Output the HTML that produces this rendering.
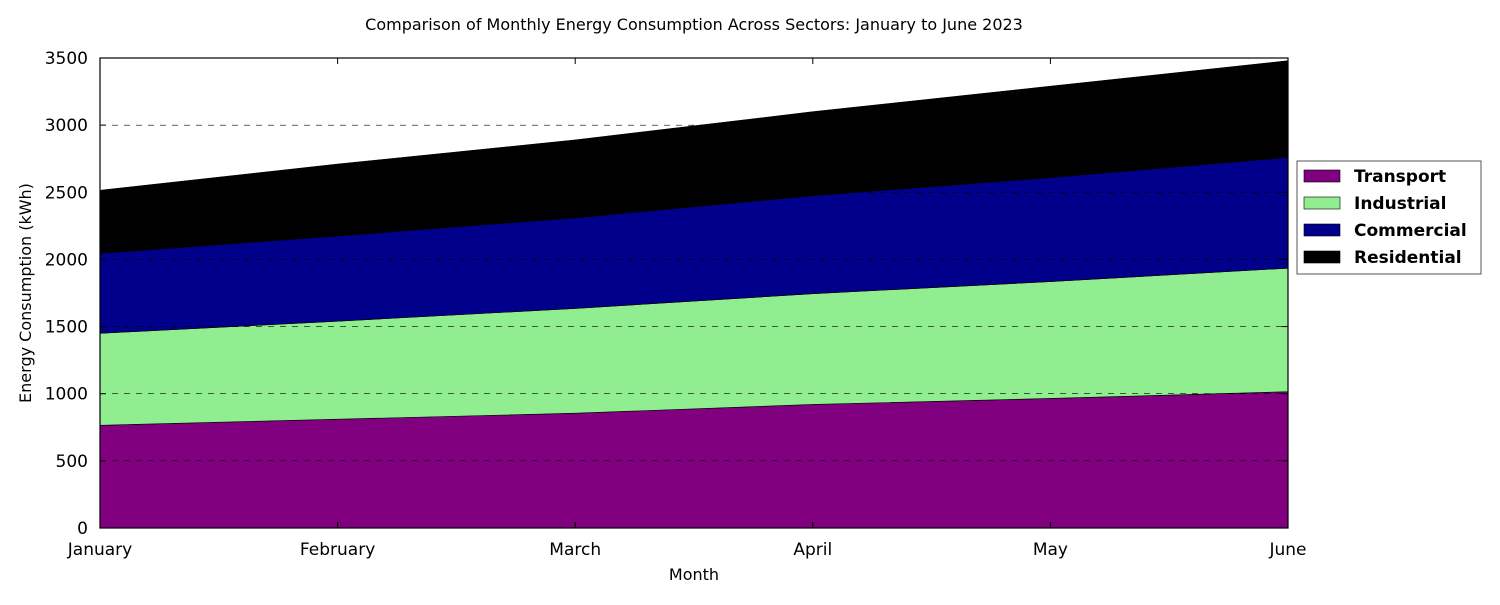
<!DOCTYPE html>
<html><head><meta charset="utf-8"><style>
body{margin:0;background:#fff;}
svg text{font-family:"DejaVu Sans","Liberation Sans",sans-serif;}
</style></head><body>
<svg id="chart" width="1500" height="600" xmlns="http://www.w3.org/2000/svg"></svg>
<script>
const months = ["January","February","March","April","May","June"];
const transport = [765,810,855,920,965,1015];
const industrial = [685,730,780,825,870,920];
const commercial = [595,635,675,730,775,825];
const residential = [470,535,580,625,680,720];
const yTicks = [0,500,1000,1500,2000,2500,3000,3500];
const seriesNames = ["Transport","Industrial","Commercial","Residential"];

const svg = document.getElementById('chart');
const NS = "http://www.w3.org/2000/svg";
const L=100,R=1288,T=58,B=528,YMAX=3500;
const xs = i => L + (R-L)*i/(months.length-1);
const ys = v => B - (B-T)*v/YMAX;
function mk(tag, attrs){const e=document.createElementNS(NS,tag);for(const k in attrs)e.setAttribute(k,attrs[k]);svg.appendChild(e);return e;}

const colors = ["#800080","#90ee90","#00008b","#000000"];
const data = [transport,industrial,commercial,residential];
let base = months.map(()=>0);
data.forEach((s,si)=>{
  const top = base.map((b,i)=>b+s[i]);
  let d = "M"+months.map((m,i)=>xs(i)+","+ys(top[i])).join(" L");
  for(let i=months.length-1;i>=0;i--) d+=" L"+xs(i)+","+ys(base[i]);
  d+=" Z";
  const p = mk('path',{d:d,fill:colors[si],stroke:"#000","stroke-width":0.6});
  
  
  base = top;
});

yTicks.forEach(v=>{
  if(v>0 && v<YMAX){
    const g = mk('line',{x1:L,x2:R,y1:ys(v),y2:ys(v),stroke:"#000","stroke-dasharray":"6,6","stroke-width":0.6});
    
    
  }
  mk('line',{x1:L,x2:L+6,y1:ys(v),y2:ys(v),stroke:"#000"});
  mk('line',{x1:R-6,x2:R,y1:ys(v),y2:ys(v),stroke:"#000"});
  const t = mk('text',{x:L-12,y:ys(v)+6,"text-anchor":"end","font-size":17});
  t.textContent = v;
  
  
});
months.forEach((m,i)=>{
  mk('line',{x1:xs(i),x2:xs(i),y1:B,y2:B-6,stroke:"#000"});
  mk('line',{x1:xs(i),x2:xs(i),y1:T,y2:T+6,stroke:"#000"});
  const t = mk('text',{x:xs(i),y:B+27,"text-anchor":"middle","font-size":17});
  t.textContent = m;
  
  
});
mk('rect',{x:L,y:T,width:R-L,height:B-T,fill:"none",stroke:"#000","stroke-width":1.2});
</script>
<svg width="1500" height="600" style="position:absolute;left:0;top:0" xmlns="http://www.w3.org/2000/svg">
<text x="694" y="30" text-anchor="middle" font-size="16">Comparison of Monthly Energy Consumption Across Sectors: January to June 2023</text>
<text x="694" y="580" text-anchor="middle" font-size="16">Month</text>
<text transform="translate(31,293) rotate(-90)" text-anchor="middle" font-size="16">Energy Consumption (kWh)</text>
<g>
<rect x="1297" y="161" width="184" height="113" fill="#fff" stroke="#555"/>
<rect x="1304" y="170" width="36" height="12" fill="#800080" stroke="#000" stroke-width="0.6"/>
<text x="1354" y="182" font-size="17" font-weight="bold">Transport</text>
<rect x="1304" y="197" width="36" height="12" fill="#90ee90" stroke="#000" stroke-width="0.6"/>
<text x="1354" y="209" font-size="17" font-weight="bold">Industrial</text>
<rect x="1304" y="224" width="36" height="12" fill="#00008b" stroke="#000" stroke-width="0.6"/>
<text x="1354" y="236" font-size="17" font-weight="bold">Commercial</text>
<rect x="1304" y="251" width="36" height="12" fill="#000" stroke="#000" stroke-width="0.6"/>
<text x="1354" y="263" font-size="17" font-weight="bold">Residential</text>
</g>
</svg>
</body></html>
